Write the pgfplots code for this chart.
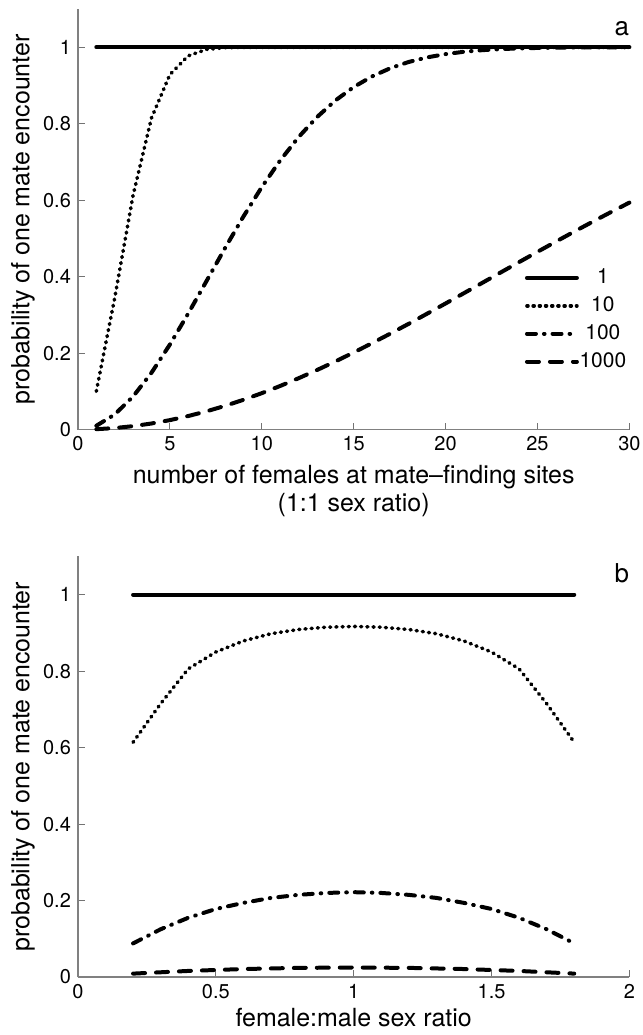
\documentclass[border=0pt]{standalone}
\usepackage{fontspec}
\setmainfont{TeX Gyre Heros}
\usepackage{pgfplots}
\usepackage{pgfplotstable}
\pgfplotsset{compat=1.18}

\pgfplotstableread{
n N1 N10 N100 N1000
1 1 0.1000 0.0100 0.0010
2 1 0.3439 0.0394 0.0040
3 1 0.6126 0.0865 0.0090
4 1 0.8147 0.1485 0.0159
5 1 0.9282 0.2222 0.0247
6 1 0.9775 0.3036 0.0354
7 1 0.9943 0.3889 0.0478
8 1 0.9988 0.4744 0.0620
9 1 0.9998 0.5570 0.0778
10 1 1.0000 0.6340 0.0952
11 1 1.0000 0.7036 0.1140
12 1 1.0000 0.7648 0.1342
13 1 1.0000 0.8170 0.1556
14 1 1.0000 0.8605 0.1781
15 1 1.0000 0.8958 0.2016
16 1 1.0000 0.9237 0.2260
17 1 1.0000 0.9452 0.2511
18 1 1.0000 0.9615 0.2768
19 1 1.0000 0.9734 0.3032
20 1 1.0000 0.9820 0.3298
21 1 1.0000 0.9881 0.3568
22 1 1.0000 0.9923 0.3838
23 1 1.0000 0.9951 0.4110
24 1 1.0000 0.9969 0.4380
25 1 1.0000 0.9981 0.4649
26 1 1.0000 0.9989 0.4915
27 1 1.0000 0.9993 0.5178
28 1 1.0000 0.9996 0.5436
29 1 1.0000 0.9998 0.5689
30 1 1.0000 0.9999 0.5936
}\topdata

\pgfplotstableread{
r N1 N10 N100 N1000
0.2 1 0.614 0.088 0.0090
0.3 1 0.715 0.125 0.0125
0.4 1 0.806 0.155 0.0160
0.5 1 0.850 0.178 0.0185
0.6 1 0.879 0.194 0.0210
0.7 1 0.898 0.207 0.0225
0.8 1 0.909 0.215 0.0240
0.9 1 0.915 0.220 0.0245
1.0 1 0.917 0.222 0.0250
1.1 1 0.915 0.220 0.0245
1.2 1 0.909 0.215 0.0240
1.3 1 0.898 0.207 0.0225
1.4 1 0.879 0.194 0.0210
1.5 1 0.850 0.178 0.0185
1.6 1 0.806 0.155 0.0160
1.7 1 0.715 0.125 0.0125
1.8 1 0.614 0.088 0.0090
}\botdata

\pgfplotsset{
  myax/.style={
    scale only axis, width=276pt, height=210.5pt,
    axis x line*=bottom, axis y line*=left,
    axis line style={draw=black!50, line width=0.6pt, -},
    tick align=inside, major tick length=3.5pt,
    tick style={draw=black!55, line width=0.5pt},
    ymin=0, ymax=1.1, ytick={0,0.2,0.4,0.6,0.8,1},
    /pgf/number format/assume math mode=true,
    ticklabel style={font=\fontsize{10}{12}\selectfont},
    label style={font=\fontsize{12.5}{14}\selectfont},
    ylabel={probability of one mate encounter},
    ylabel style={at={(axis description cs:-0.0996,0.5)}, anchor=center, rotate=0},
    clip=false,
  },
  s1/.style={black, line width=2pt, line cap=round, line join=round},
  s10/.style={black, line width=1.8pt, line cap=round, line join=round, dash pattern=on 0.5pt off 2.6pt},
  s100/.style={black, line width=2pt, line cap=round, line join=round, dash pattern=on 4.5pt off 4pt on 0.3pt off 4pt},
  s1000/.style={black, line width=2pt, line cap=round, line join=round, dash pattern=on 6pt off 5.5pt},
}

\begin{document}
\begin{tikzpicture}
\useasboundingbox (-39pt,-303pt) rectangle (282.5pt,215pt);
\begin{axis}[myax,
  at={(0pt,0pt)}, anchor=south west,
  xmin=0, xmax=30, xtick={0,5,10,15,20,25,30},
  xlabel={number of females at mate--finding sites\\(1:1 sex ratio)},
  xlabel style={align=center, at={(axis description cs:0.5,0)}, anchor=north, yshift=-17.5pt, inner sep=0pt},
  legend style={at={(rel axis cs:1.007,0.397)}, anchor=north east, draw=none, fill=none,
    font=\fontsize{10.5}{12}\selectfont, row sep=3pt,
    nodes={inner sep=1pt}},
  legend image code/.code={\draw[#1] (0pt,0pt) -- (25pt,0pt);},
  legend cell align=center,
]
\addplot[s1] table[x=n, y=N1] {\topdata};
\addlegendentry{\makebox[22pt][c]{1}}
\addplot[s10] table[x=n, y=N10] {\topdata};
\addlegendentry{\makebox[22pt][c]{10}}
\addplot[s100] table[x=n, y=N100] {\topdata};
\addlegendentry{\makebox[22pt][c]{100}}
\addplot[s1000] table[x=n, y=N1000] {\topdata};
\addlegendentry{\makebox[22pt][c]{1000}}
\node[anchor=base east, inner sep=0pt, font=\fontsize{13}{15}\selectfont] at (rel axis cs:1,0.937) {a};
\end{axis}

\begin{axis}[myax,
  at={(0pt,-274pt)}, anchor=south west,
  xmin=0, xmax=2, xtick={0,0.5,1,1.5,2},
  xlabel={female:male sex ratio},
  xlabel style={at={(axis description cs:0.5,0)}, anchor=north, yshift=-15.5pt, inner sep=0pt},
]
\addplot[s1] table[x=r, y=N1] {\botdata};
\addplot[s10] table[x=r, y=N10] {\botdata};
\addplot[s100] table[x=r, y=N100] {\botdata};
\addplot[s1000] table[x=r, y=N1000] {\botdata};
\node[anchor=base east, inner sep=0pt, font=\fontsize{13}{15}\selectfont] at (rel axis cs:1,0.938) {b};
\end{axis}
\end{tikzpicture}
\end{document}
